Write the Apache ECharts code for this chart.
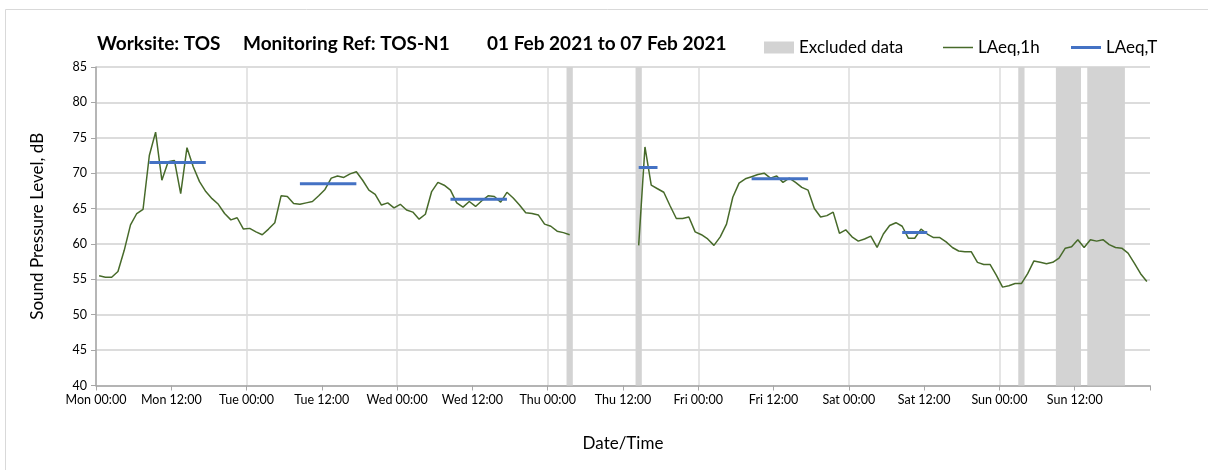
<!DOCTYPE html>
<html>
<head>
<meta charset="utf-8">
<script src="https://cdn.jsdelivr.net/npm/echarts@6/dist/echarts.min.js"></script>
<style>
  html, body { margin: 0; padding: 0; background: #fff; }
  #chart { width: 1208px; height: 470px; }
</style>
</head>
<body>
<div id="chart"></div>
<script>
  // tick labels
  var dayNames = ['Mon', 'Tue', 'Wed', 'Thu', 'Fri', 'Sat', 'Sun'];

  // LAeq,1h - one value per hour from Mon 00:00 (null = no data)
  var hourlyLevels = [
    55.5, 55.3, 55.3, 56.1, 59.1, 62.7, 64.3, 64.9, 72.5, 75.8, 69.0, 71.6,
    71.8, 67.1, 73.6, 70.9, 68.8, 67.4, 66.4, 65.6, 64.3, 63.4, 63.7, 62.1,
    62.2, 61.7, 61.3, 62.1, 63.0, 66.8, 66.7, 65.7, 65.6, 65.8, 66.0, 66.8,
    67.7, 69.3, 69.6, 69.4, 69.9, 70.2, 69.0, 67.6, 67.0, 65.5, 65.8, 65.1,
    65.6, 64.8, 64.5, 63.5, 64.2, 67.4, 68.7, 68.3, 67.6, 65.8, 65.2, 66.0,
    65.3, 66.1, 66.8, 66.7, 65.9, 67.3, 66.5, 65.5, 64.4, 64.3, 64.1, 62.8,
    62.5, 61.8, 61.6, 61.3, null, null, null, null, null, null, null, null,
    null, null, 59.8, 73.7, 68.3, 67.8, 67.3, 65.4, 63.6, 63.6, 63.8, 61.7,
    61.3, 60.7, 59.8, 61.0, 62.8, 66.6, 68.6, 69.2, 69.5, 69.8, 70.0, 69.3,
    69.6, 68.7, 69.3, 68.7, 68.0, 67.6, 65.0, 63.8, 64.0, 64.5, 61.5, 62.0,
    61.0, 60.4, 60.7, 61.1, 59.5, 61.4, 62.6, 63.0, 62.5, 60.8, 60.8, 62.1,
    61.4, 60.9, 60.9, 60.3, 59.5, 59.0, 58.9, 58.9, 57.4, 57.1, 57.1, 55.6,
    53.9, 54.1, 54.4, 54.4, 55.8, 57.6, 57.4, 57.2, 57.4, 58.0, 59.4, 59.6,
    60.6, 59.5, 60.6, 60.4, 60.6, 59.9, 59.5, 59.4, 58.7, 57.3, 55.8, 54.7
  ];

  // LAeq,T - period start / end (hours from Mon 00:00) and level
  var periodStart = [8.5, 32.5, 56.5, 86.5, 104.5, 128.5];
  var periodEnd   = [17.5, 41.5, 65.5, 89.5, 113.5, 132.5];
  var periodLevel = [71.5, 68.5, 66.3, 70.8, 69.2, 61.6];

  // excluded data (hours from Mon 00:00)
  var excludedStart = [75, 86, 147, 153, 158];
  var excludedEnd   = [76, 87, 148, 157, 164];

  var yMin = 40, yMax = 85;
  var font = 'Lato';
  var greenColor = '#476a2a';
  var blueColor = '#4472c4';

  var hourlyData = hourlyLevels.map(function (v, i) {
    return [i + 0.5, v === null ? '-' : v];
  });

  var periodData = [];
  periodLevel.forEach(function (v, i) {
    if (i > 0) periodData.push([periodStart[i] - 0.5, '-']);
    periodData.push([periodStart[i], v]);
    periodData.push([periodEnd[i], v]);
  });

  var excludedData = excludedStart.map(function (s, i) {
    return [s, excludedEnd[i]];
  });

  var legendText = { fontFamily: font, fontSize: 17, color: '#000' };

  var chart = echarts.init(document.getElementById('chart'));
  var option = {
    animation: false,
    backgroundColor: '#fff',
    textStyle: { fontFamily: font },
    graphic: [{
      type: 'rect',
      shape: { x: 5.5, y: 9.5, width: 1230, height: 480 },
      style: { fill: 'none', stroke: '#d9d9d9', lineWidth: 1 },
      silent: true
    }],
    title: [
      { text: 'Worksite: TOS', left: 97, top: 34 },
      { text: 'Monitoring Ref: TOS-N1', left: 243, top: 34 },
      { text: '01 Feb 2021 to 07 Feb 2021', left: 487, top: 34 }
    ].map(function (t) {
      t.padding = 0;
      t.textStyle = { fontFamily: font, fontSize: 19, fontWeight: 'bold', color: '#000' };
      return t;
    }),
    legend: [{
      left: 759,
      top: 34,
      itemWidth: 30,
      itemHeight: 12,
      textStyle: legendText,
      data: [{ name: 'Excluded data', icon: 'rect', itemStyle: { color: '#d3d3d3' } }]
    }, {
      left: 938,
      top: 34,
      itemWidth: 30,
      itemHeight: 1.5,
      textStyle: legendText,
      data: [{ name: 'LAeq,1h', icon: 'rect', itemStyle: { color: greenColor } }]
    }, {
      left: 1066,
      top: 34,
      itemWidth: 30,
      itemHeight: 3,
      textStyle: legendText,
      data: [{ name: 'LAeq,T', icon: 'rect', itemStyle: { color: blueColor } }]
    }],
    grid: { left: 96, right: 58, top: 67, bottom: 84.5, containLabel: false },
    xAxis: {
      type: 'value',
      min: 0,
      max: 168,
      interval: 12,
      name: 'Date/Time',
      nameLocation: 'middle',
      nameGap: 50,
      nameTextStyle: { fontFamily: font, fontSize: 17, color: '#000' },
      axisLine: { lineStyle: { color: '#a6a6a6', width: 1.5 } },
      axisTick: { length: 5, lineStyle: { color: '#a6a6a6' } },
      axisLabel: {
        fontFamily: font, fontSize: 12.5, color: '#000', margin: 8,
        formatter: function (v) {
          if (v >= 168) return '';
          return dayNames[Math.floor(v / 24)] + (v % 24 === 0 ? ' 00:00' : ' 12:00');
        }
      },
      splitLine: {
        show: true,
        showMaxLine: false,
        lineStyle: { color: ['#dcdcdc', 'rgba(0,0,0,0)'], width: 1.5 }
      }
    },
    yAxis: {
      type: 'value',
      min: yMin,
      max: yMax,
      interval: 5,
      name: 'Sound Pressure Level, dB',
      nameLocation: 'middle',
      nameGap: 50,
      nameTextStyle: { fontFamily: font, fontSize: 17, color: '#000' },
      axisLine: { show: true, lineStyle: { color: '#a6a6a6', width: 1.5 } },
      axisTick: { show: true, length: 5, lineStyle: { color: '#a6a6a6' } },
      axisLabel: { fontFamily: font, fontSize: 12.5, color: '#000', margin: 9 },
      splitLine: { lineStyle: { color: '#d0d0d0', width: 1.5 } }
    },
    series: [
      {
        name: 'Excluded data',
        type: 'custom',
        data: excludedData,
        encode: { x: [0, 1] },
        z: 1,
        itemStyle: { color: '#d3d3d3' },
        renderItem: function (params, api) {
          var p0 = api.coord([api.value(0), yMax]);
          var p1 = api.coord([api.value(1), yMin]);
          return {
            type: 'rect',
            shape: { x: p0[0], y: p0[1], width: p1[0] - p0[0], height: p1[1] - p0[1] },
            style: { fill: '#d3d3d3' }
          };
        }
      },
      {
        name: 'LAeq,1h',
        type: 'line',
        data: hourlyData,
        symbol: 'none',
        connectNulls: false,
        z: 3,
        lineStyle: { color: greenColor, width: 1.5 },
        itemStyle: { color: greenColor }
      },
      {
        name: 'LAeq,T',
        type: 'line',
        data: periodData,
        symbol: 'none',
        connectNulls: false,
        z: 4,
        lineStyle: { color: blueColor, width: 3 },
        itemStyle: { color: blueColor }
      }
    ]
  };
  chart.setOption(option);
</script>
</body>
</html>
